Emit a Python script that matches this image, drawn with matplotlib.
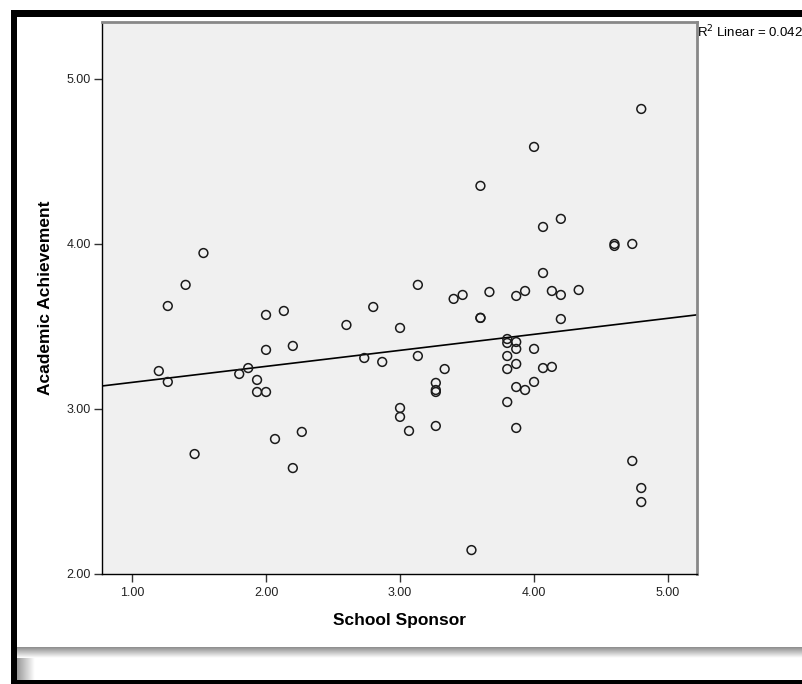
import numpy as np
import matplotlib
matplotlib.use("Agg")
import matplotlib.pyplot as plt
from matplotlib.patches import Rectangle

plt.rcParams['font.family'] = ['Liberation Sans', 'DejaVu Sans']

# School Sponsor (x) vs Academic Achievement (y)
school_sponsor = [1.200, 1.267, 1.267, 1.400, 1.533, 1.467, 1.800, 1.867, 1.933, 1.933,
                  2.000, 2.000, 2.000, 2.133, 2.200, 2.067, 2.267, 2.200, 2.600, 2.800,
                  2.733, 2.867, 3.000, 3.000, 3.000, 3.067, 3.133, 3.133, 3.333, 3.267,
                  3.267, 3.267, 3.267, 3.400, 3.467, 3.600, 3.600, 3.600, 3.667, 3.533,
                  3.800, 3.800, 3.800, 3.800, 3.800, 3.867, 3.867, 3.867, 3.867, 3.867,
                  3.867, 3.933, 3.933, 4.000, 4.000, 4.000, 4.067, 4.067, 4.067, 4.133,
                  4.133, 4.200, 4.200, 4.200, 4.333, 4.600, 4.600, 4.733, 4.733, 4.800,
                  4.800, 4.800]
academic_achievement = [3.230, 3.164, 3.624, 3.752, 3.945, 2.727, 3.212, 3.248, 3.176, 3.103,
                        3.103, 3.358, 3.570, 3.594, 3.382, 2.818, 2.861, 2.642, 3.509, 3.618,
                        3.309, 3.285, 3.491, 3.006, 2.952, 2.867, 3.321, 3.752, 3.242, 3.158,
                        3.115, 3.103, 2.897, 3.667, 3.691, 4.352, 3.552, 3.552, 3.709, 2.145,
                        3.424, 3.400, 3.321, 3.242, 3.042, 3.685, 3.406, 3.364, 3.273, 3.133,
                        2.885, 3.715, 3.115, 4.588, 3.364, 3.164, 4.103, 3.824, 3.248, 3.715,
                        3.255, 4.152, 3.691, 3.545, 3.721, 4.000, 3.988, 4.000, 2.685, 4.818,
                        2.521, 2.436]

# fit line as drawn in the original
fit_intercept = 3.064
fit_slope = 0.0971
r2_text = r"R$^2$ Linear = 0.042"

x_ticks = [1, 2, 3, 4, 5]
y_ticks = [2, 3, 4, 5]
xlim = (0.776, 5.216)
ylim = (2.0, 5.345)

fig = plt.figure(figsize=(8.03, 6.84), dpi=100)
ax = fig.add_axes([102 / 803, 1 - 574 / 684, 595 / 803, 552 / 684])
ax.set_facecolor('#f0f0f0')

ax.scatter(school_sponsor, academic_achievement, s=40, facecolors='none',
           edgecolors='#1a1a1a', linewidths=1.1, zorder=3)
xx = np.array(xlim)
ax.plot(xx, fit_intercept + fit_slope * xx, color='black', lw=1.2, zorder=2)

ax.set_xlim(*xlim)
ax.set_ylim(*ylim)
ax.set_xticks(x_ticks)
ax.set_xticklabels(['%.2f' % v for v in x_ticks])
ax.set_yticks(y_ticks)
ax.set_yticklabels(['%.2f' % v for v in y_ticks])
ax.tick_params(axis='both', direction='out', length=6, width=1, color='#333333',
               labelsize=9, labelcolor='#222222')
ax.tick_params(axis='x', pad=3)
ax.tick_params(axis='y', pad=2)

for s in ['left', 'bottom']:
    ax.spines[s].set_color('black')
    ax.spines[s].set_linewidth(1)
for s in ['top', 'right']:
    ax.spines[s].set_color('#888888')
    ax.spines[s].set_linewidth(2)

ax.set_xlabel('School Sponsor', fontsize=12.5, fontweight='bold')
ax.set_ylabel('Academic Achievement', fontsize=12.5, fontweight='bold')
ax.xaxis.set_label_coords(0.5, -(621 - 574) / 552)
ax.yaxis.set_label_coords((46 - 102) / 595, 0.5)
ax.xaxis.label.set_va('center')
ax.yaxis.label.set_va('center')

fig.text(697 / 803, 1 - 37 / 684, r2_text, fontsize=9.5, ha='left', va='baseline')

# outer window frame
W, H = 803, 684
def px_rect(x0, y0, w, h, **kw):
    fig.add_artist(Rectangle((x0 / W, 1 - (y0 + h) / H), w / W, h / H,
                             transform=fig.transFigure, **kw))

px_rect(11, 10, W - 11, 7, color='black', lw=0)
px_rect(11, 10, 6, H - 10, color='black', lw=0)
px_rect(11, 680, W - 11, 4, color='black', lw=0)

# shadow band at the bottom
grad = np.linspace(0.55, 1.0, 40).reshape(-1, 1)
gax = fig.add_axes([17 / W, 1 - 658 / H, (W - 17) / W, 11 / H])
gax.imshow(grad, cmap='gray', vmin=0, vmax=1, aspect='auto', interpolation='bilinear')
gax.axis('off')
side = np.linspace(0.6, 1.0, 40).reshape(1, -1)
sax = fig.add_axes([17 / W, 1 - 680 / H, 18 / W, 22 / H])
sax.imshow(side, cmap='gray', vmin=0, vmax=1, aspect='auto', interpolation='bilinear')
sax.axis('off')

fig.savefig('out.png', dpi=100)
